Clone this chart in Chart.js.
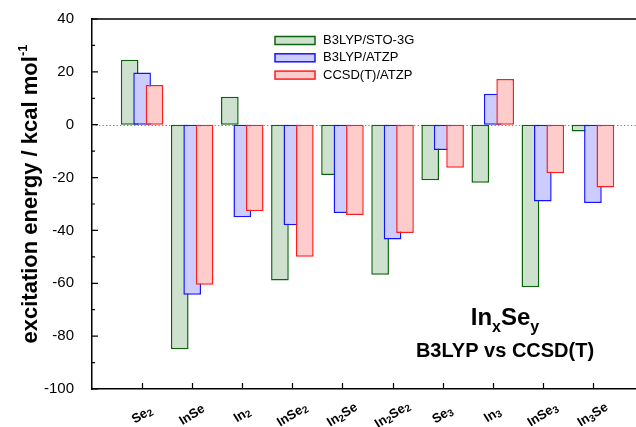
<!DOCTYPE html>
<html>
<head>
<meta charset="utf-8">
<script src="https://cdn.jsdelivr.net/npm/chart.js@4"></script>
<style>
  html, body { margin: 0; padding: 0; background: #fff; overflow: hidden; }
  /* the plot frame runs on past the right edge of the window */
  #wrap { width: 643px; height: 427px; position: relative; }
</style>
</head>
<body>
<div id="wrap"><canvas id="c"></canvas></div>
<script>
// Clusters (digits are drawn as subscripts)
const categories = ['Se2', 'InSe', 'In2', 'InSe2', 'In2Se', 'In2Se2', 'Se3', 'In3', 'InSe3', 'In3Se'];
// Excitation energies, kcal/mol
const b3lypSto3g = [24.6, -85.0, 10.6, -58.9, -19.0, -56.8, -21.0, -22.0, -61.5, -2.6];
const b3lypAtzp  = [19.8, -64.3, -35.0, -38.0, -33.4, -43.4, -9.6, 11.7, -29.1, -29.6];
const ccsdtAtzp  = [15.0, -60.6, -32.7, -50.0, -34.2, -41.0, -16.3, 17.3, -18.4, -23.8];
const seriesNames = ['B3LYP/STO-3G', 'B3LYP/ATZP', 'CCSD(T)/ATZP'];
const yTicks = [40, 20, 0, -20, -40, -60, -80, -100];

const FONT = 'Arial, "Liberation Sans", Helvetica, sans-serif';

// one empty slot before the first cluster and after the last one
const padded = arr => [null, ...arr, null];
const xLabels = ['', ...categories, ''];

function richWidth(ctx, parts) {
  let w = 0;
  for (const p of parts) { ctx.font = p.font; w += ctx.measureText(p.t).width; }
  return w;
}
function drawRich(ctx, parts, x, y, align) {
  const w = richWidth(ctx, parts);
  let cx = align === 'center' ? x - w / 2 : (align === 'right' ? x - w : x);
  ctx.textAlign = 'left';
  for (const p of parts) {
    ctx.font = p.font;
    ctx.fillText(p.t, cx, y + (p.dy || 0));
    cx += ctx.measureText(p.t).width;
  }
}
// split a formula such as In2Se2 into normal text and subscript digits
function formulaParts(s, size, subSize, subDy) {
  const parts = [];
  const re = /([0-9]+)|([^0-9]+)/g;
  let m;
  while ((m = re.exec(s))) {
    if (m[1]) parts.push({ t: m[1], font: `bold ${subSize}px ${FONT}`, dy: subDy });
    else parts.push({ t: m[2], font: `bold ${size}px ${FONT}` });
  }
  return parts;
}

const decorations = {
  id: 'decorations',
  beforeDatasetsDraw(chart) {
    const ctx = chart.ctx;
    const { left, right } = chart.chartArea;
    const y = chart.scales.y;
    // dotted zero line beneath the bars
    ctx.save();
    ctx.strokeStyle = '#808080';
    ctx.lineWidth = 1.2;
    ctx.setLineDash([1.3, 2.2]);
    const y0 = Math.round(y.getPixelForValue(0)) + 0.5;
    ctx.beginPath(); ctx.moveTo(left, y0); ctx.lineTo(right, y0); ctx.stroke();
    ctx.restore();
    // bars painted in series order so later series overlap earlier ones
    for (let i = 0; i < chart.data.datasets.length; i++) {
      chart.getDatasetMeta(i).controller.draw();
    }
    return false;
  },
  afterDraw(chart) {
    const ctx = chart.ctx;
    const { left, right, top, bottom } = chart.chartArea;
    const xs = chart.scales.x, ys = chart.scales.y;
    ctx.save();
    // frame top line
    ctx.strokeStyle = '#000';
    ctx.lineWidth = 1.5;
    ctx.beginPath(); ctx.moveTo(left, top); ctx.lineTo(right, top); ctx.stroke();
    // inward ticks on the y axis (major + minor)
    const tv = ys.ticks.map(t => t.value);
    ctx.lineWidth = 1.2;
    ctx.beginPath();
    for (const v of tv) {
      const py = ys.getPixelForValue(v);
      ctx.moveTo(left, py); ctx.lineTo(left + 6, py);
    }
    for (let i = 0; i + 1 < tv.length; i++) {
      const py = ys.getPixelForValue((tv[i] + tv[i + 1]) / 2);
      ctx.moveTo(left, py); ctx.lineTo(left + 3, py);
    }
    // inward ticks on the x axis at each cluster
    for (let i = 1; i <= categories.length; i++) {
      const px = Math.round(xs.getPixelForValue(i)) + 0.5;
      ctx.moveTo(px, bottom); ctx.lineTo(px, bottom - 6);
    }
    ctx.stroke();

    // rotated cluster labels
    ctx.fillStyle = '#000';
    ctx.textBaseline = 'middle';
    categories.forEach((c, i) => {
      const px = xs.getPixelForValue(i + 1);
      ctx.save();
      ctx.translate(px, bottom + 26);
      ctx.rotate(-32 * Math.PI / 180);
      drawRich(ctx, formulaParts(c, 13, 10, 3), 0, 0, 'center');
      ctx.restore();
    });

    // y axis title with superscript
    ctx.save();
    ctx.translate(37, (top + bottom) / 2 - 10);
    ctx.rotate(-Math.PI / 2);
    ctx.textBaseline = 'alphabetic';
    drawRich(ctx, [
      { t: 'excitation energy / kcal mol', font: `bold 22px ${FONT}` },
      { t: '-1', font: `bold 13px ${FONT}`, dy: -10 }
    ], 0, 0, 'center');
    ctx.restore();

    // legend
    ctx.textBaseline = 'middle';
    chart.data.datasets.forEach((ds, i) => {
      const ly = 40.5 + i * 17.3;
      ctx.fillStyle = ds.backgroundColor;
      ctx.fillRect(275, ly - 4, 40, 8);
      ctx.strokeStyle = ds.borderColor;
      ctx.lineWidth = 1.5;
      ctx.strokeRect(275, ly - 4, 40, 8);
      ctx.fillStyle = '#000';
      ctx.font = `13px ${FONT}`;
      ctx.textAlign = 'left';
      ctx.fillText(ds.label, 323, ly);
    });

    // annotation
    ctx.textBaseline = 'alphabetic';
    ctx.fillStyle = '#000';
    drawRich(ctx, [
      { t: 'In', font: `bold 24px ${FONT}` },
      { t: 'x', font: `bold 16px ${FONT}`, dy: 7 },
      { t: 'Se', font: `bold 24px ${FONT}` },
      { t: 'y', font: `bold 16px ${FONT}`, dy: 7 }
    ], 505, 325, 'center');
    ctx.font = `bold 20px ${FONT}`;
    ctx.textAlign = 'center';
    ctx.fillText('B3LYP vs CCSD(T)', 505, 357);
    ctx.restore();
  }
};

new Chart(document.getElementById('c'), {
  type: 'bar',
  data: {
    labels: xLabels,
    datasets: [
      { label: seriesNames[0], data: padded(b3lypSto3g), backgroundColor: 'rgb(206,225,206)', borderColor: 'rgb(10,100,10)' },
      { label: seriesNames[1], data: padded(b3lypAtzp),  backgroundColor: 'rgb(204,204,255)', borderColor: 'rgb(20,20,255)' },
      { label: seriesNames[2], data: padded(ccsdtAtzp),  backgroundColor: 'rgb(255,204,204)', borderColor: 'rgb(255,30,30)' }
    ]
  },
  options: {
    responsive: true,
    maintainAspectRatio: false,
    animation: false,
    devicePixelRatio: 1,
    layout: { padding: { top: 17, right: 0, left: 0, bottom: 0 } },
    datasets: {
      bar: {
        borderWidth: 1.5,
        borderSkipped: false,
        categoryPercentage: 0.745,
        barPercentage: 1.42
      }
    },
    plugins: {
      legend: { display: false },
      tooltip: { enabled: false },
      title: { display: false }
    },
    scales: {
      x: {
        type: 'category',
        offset: false,
        grid: { display: false, offset: false },
        border: { display: true, color: '#000', width: 1.5 },
        ticks: { display: false, autoSkip: false },
        afterFit(scale) { scale.height = 38; }
      },
      y: {
        min: yTicks[yTicks.length - 1],
        max: yTicks[0],
        grid: { display: false },
        border: { display: true, color: '#000', width: 1.5 },
        afterBuildTicks(scale) { scale.ticks = yTicks.map(v => ({ value: v })); },
        ticks: {
          color: '#000',
          padding: 10,
          font: { family: FONT, size: 15 }
        },
        afterFit(scale) { scale.width = 92; }
      }
    }
  },
  plugins: [decorations]
});
</script>
</body>
</html>
